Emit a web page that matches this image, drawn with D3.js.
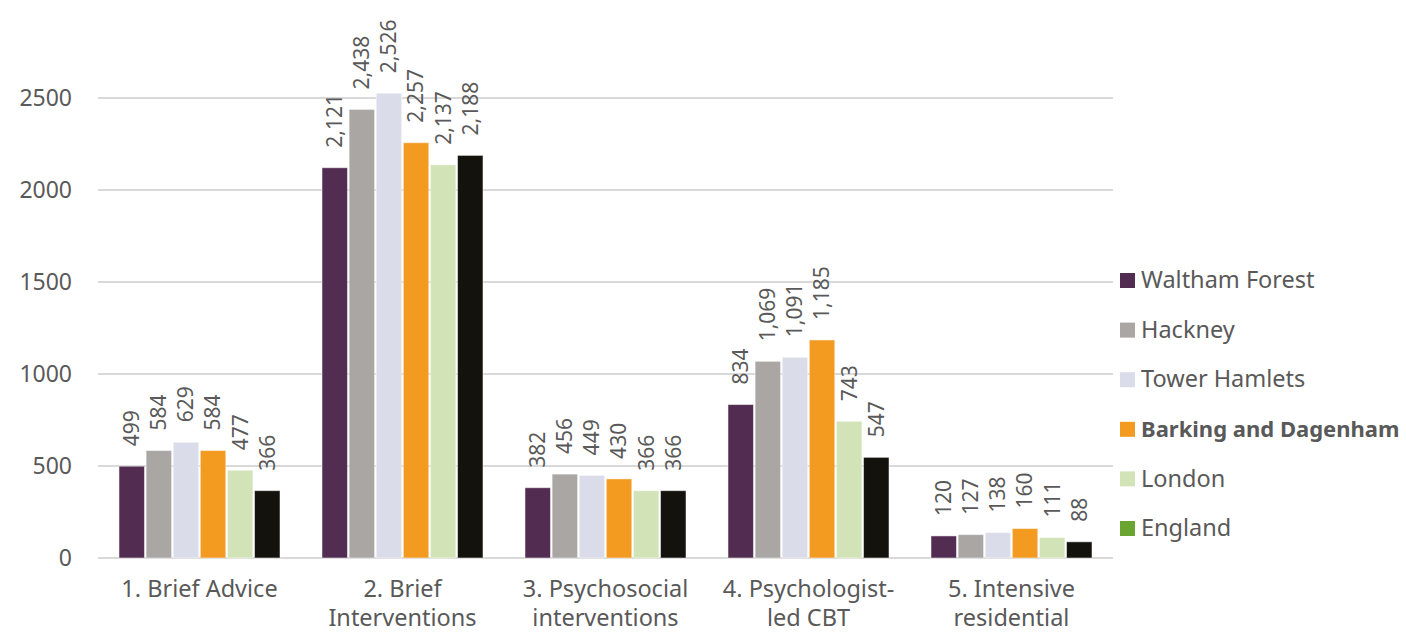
<!DOCTYPE html>
<html><head><meta charset="utf-8">
<script src="https://cdn.jsdelivr.net/npm/d3@7"></script>
<style>body{margin:0;background:#fff;} svg{display:block;} text{font-family:"Noto Sans",sans-serif;fill:#595959;}</style>
</head><body>
<svg id="c" width="1406" height="633"></svg>
<script>
const categories = ["1. Brief Advice","2. Brief Interventions","3. Psychosocial interventions","4. Psychologist-led CBT","5. Intensive residential"];
const categoryLines = [["1. Brief Advice"],["2. Brief","Interventions"],["3. Psychosocial","interventions"],["4. Psychologist-","led CBT"],["5. Intensive","residential"]];
const seriesNames = ["Waltham Forest","Hackney","Tower Hamlets","Barking and Dagenham","London","England"];
const walthamForest = [499,2121,382,834,120];
const hackney = [584,2438,456,1069,127];
const towerHamlets = [629,2526,449,1091,138];
const barkingDagenham = [584,2257,430,1185,160];
const london = [477,2137,366,743,111];
const england = [366,2188,366,547,88];
const yTicks = [0,500,1000,1500,2000,2500];
const barColors = ["#532c51","#a9a6a4","#dadcea","#f39a20","#d1e3b7","#13120d"];
const legendColors = ["#532c51","#a9a6a4","#dadcea","#f39a20","#d1e3b7","#6aa532"];

const series = [walthamForest,hackney,towerHamlets,barkingDagenham,london,england];
const svg = d3.select("#c");
const x0 = d3.scaleBand().domain(categories).range([98,1113]).padding(0);
const x1 = d3.scaleBand().domain(d3.range(6)).range([21,182]).paddingInner(0.06);
const y = d3.scaleLinear().domain([0,2500]).range([558,98]);
const fmt = d3.format(",");

// grid
svg.append("g").selectAll("line").data(yTicks).join("line")
  .attr("x1",98).attr("x2",1113).attr("y1",d=>y(d)).attr("y2",d=>y(d))
  .attr("stroke","#d9d9d9").attr("stroke-width",2);
svg.append("g").selectAll("text").data(yTicks).join("text")
  .attr("x",72).attr("y",d=>y(d)).attr("dy","0.35em").attr("text-anchor","end")
  .attr("font-size",23).text(d=>d);

const groups = svg.append("g").selectAll("g").data(categories).join("g")
  .attr("transform",d=>`translate(${x0(d)},0)`);
groups.each(function(cat,ci){
  const g = d3.select(this);
  series.forEach((s,si)=>{
    const v = s[ci];
    g.append("rect").attr("x",x1(si)).attr("width",x1.bandwidth())
      .attr("y",y(v)).attr("height",y(0)-y(v)).attr("fill",barColors[si])
      .attr("stroke","#ffffff").attr("stroke-opacity",0.5).attr("stroke-width",1);
    const cx = x1(si)+x1.bandwidth()/2;
    g.append("text").attr("transform",`translate(${cx},${y(v)-20}) rotate(-90)`)
      .attr("dy","0.35em").attr("text-anchor","start").attr("font-size",21).text(fmt(v));
  });
  const t = g.append("text").attr("text-anchor","middle").attr("font-size",23.5);
  categoryLines[ci].forEach((ln,li)=>{
    t.append("tspan").attr("x",x0.bandwidth()/2).attr("y",597+li*29).text(ln);
  });
});

// legend
const lg = svg.append("g");
seriesNames.forEach((n,i)=>{
  const yy = 280 + i*49.6;
  lg.append("rect").attr("x",1120).attr("y",yy-7).attr("width",15).attr("height",15).attr("fill",legendColors[i]);
  lg.append("text").attr("x",1141).attr("y",yy).attr("dy","0.35em").attr("font-size",i===3?22:23.5)
    .attr("font-weight",i===3?"bold":"normal").text(n);
});
</script>
</body></html>
